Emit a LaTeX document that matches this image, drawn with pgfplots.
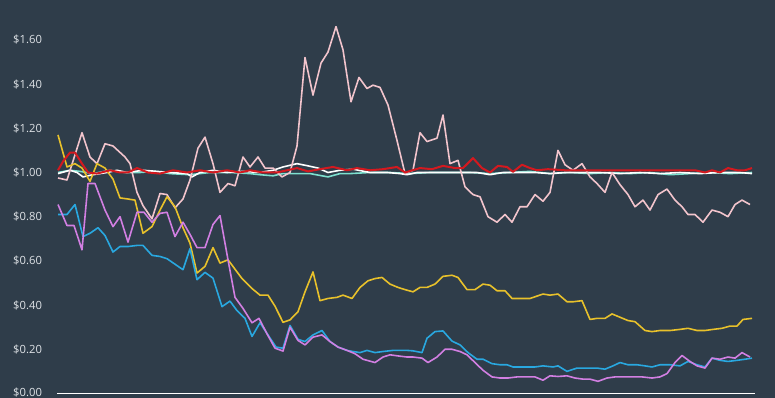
\documentclass[border=0pt]{standalone}
\usepackage{pgfplots}
\pgfplotsset{compat=1.18}
\usepackage{fontspec}
\setmainfont{Open Sans}
\definecolor{bg}{HTML}{2F3D4A}
\definecolor{labelc}{HTML}{DDE1E5}
\definecolor{cpink}{HTML}{F2C4CC}
\definecolor{cyellow}{HTML}{E8C12B}
\definecolor{cviolet}{HTML}{D27FE2}
\definecolor{cblue}{HTML}{29A8E0}
\definecolor{cred}{HTML}{D4191F}
\definecolor{cteal}{HTML}{7EE0CF}
\begin{document}
\begin{tikzpicture}
\begin{axis}[
  at={(0,0)}, anchor=south west,
  width=775bp, height=398bp, scale only axis,
  xmin=0, xmax=775, ymin=-0.0204, ymax=1.7805,
  axis line style={draw=none},
  axis background/.style={fill=bg},
  xtick=\empty,
  ytick={0,0.2,0.4,0.6,0.8,1.0,1.2,1.4,1.6},
  yticklabels={\raisebox{2.5bp}{\$0.00},\$0.20,\$0.40,\$0.60,\$0.80,\$1.00,\$1.20,\$1.40,\$1.60},
  yticklabel style={anchor=west, inner sep=0pt, xshift=13bp, font=\fontsize{11.3}{13}\selectfont, text=labelc},
  major tick length=0pt, tick style={draw=none},
  every axis plot/.append style={line width=1.6bp, line join=round},
]
\addplot[white, line width=1.8bp] coordinates {(57,0) (755,0)};
\addplot[cteal] coordinates {(58,1.0) (70,1.01) (80,1.005) (93,0.995) (110,1.01) (125,1.0) (140,1.0) (155,1.005) (170,0.995) (190,0.99) (210,1.0) (230,1.0) (250,0.995) (260,0.99) (273,0.985) (283,0.995) (297,0.995) (310,0.995) (328,0.98) (340,0.995) (350,0.995) (370,1.0) (390,1.0) (410,0.995) (430,1.0) (450,1.0) (470,1.0) (490,0.995) (510,1.0) (530,1.005) (550,0.995) (570,1.0) (590,0.995) (610,1.0) (630,0.995) (650,1.0) (670,0.99) (690,0.995) (710,1.0) (730,0.995) (752,1.0)};
\addplot[white] coordinates {(58,0.995) (70,1.01) (77,1.0) (83,0.98) (93,0.99) (107,1.0) (117,1.01) (127,1.0) (143,1.01) (157,1.005) (170,1.0) (187,0.995) (192,0.98) (200,1.0) (213,1.01) (227,1.0) (243,1.005) (260,1.0) (273,1.01) (283,1.025) (297,1.04) (308,1.03) (318,1.02) (328,1.0) (340,1.01) (353,1.015) (370,1.0) (387,1.0) (400,0.995) (407,0.99) (417,1.0) (437,1.0) (457,1.0) (477,1.0) (490,0.99) (503,1.0) (517,1.0) (535,1.0) (550,0.995) (565,1.0) (580,1.0) (600,1.0) (620,0.995) (640,1.0) (660,0.995) (680,1.0) (700,0.995) (720,1.0) (740,1.0) (752,0.995)};
\addplot[cpink] coordinates {(58,0.975) (67,0.966) (82,1.18) (90,1.07) (97,1.04) (105,1.13) (113,1.12) (125,1.07) (130,1.04) (137,0.91) (143,0.85) (152,0.79) (160,0.905) (167,0.90) (175,0.84) (183,0.88) (190,0.966) (198,1.11) (205,1.16) (213,1.04) (220,0.91) (228,0.95) (235,0.94) (243,1.07) (250,1.025) (258,1.07) (265,1.02) (273,1.02) (282,0.98) (290,1.0) (297,1.12) (305,1.52) (313,1.35) (321,1.495) (328,1.545) (336,1.66) (343,1.555) (351,1.32) (359,1.43) (367,1.38) (373,1.395) (380,1.385) (388,1.305) (397,1.145) (405,0.995) (413,1.01) (420,1.18) (427,1.14) (437,1.155) (443,1.26) (450,1.04) (458,1.055) (465,0.935) (473,0.90) (480,0.89) (488,0.80) (497,0.775) (505,0.81) (512,0.775) (520,0.845) (527,0.845) (535,0.90) (543,0.87) (550,0.91) (558,1.10) (565,1.035) (573,1.01) (582,1.04) (590,0.98) (597,0.95) (605,0.91) (612,1.0) (620,0.945) (628,0.90) (635,0.845) (643,0.875) (650,0.83) (658,0.90) (667,0.925) (675,0.875) (682,0.845) (688,0.81) (695,0.81) (703,0.775) (712,0.83) (720,0.82) (728,0.80) (735,0.855) (742,0.875) (750,0.855)};
\addplot[cyellow] coordinates {(58,1.17) (67,1.025) (75,1.04) (82,1.02) (90,0.96) (97,1.04) (105,1.02) (113,0.97) (120,0.885) (128,0.88) (135,0.875) (143,0.725) (152,0.755) (160,0.83) (167,0.89) (175,0.845) (183,0.75) (190,0.68) (197,0.545) (205,0.575) (213,0.66) (220,0.59) (228,0.605) (242,0.52) (252,0.475) (260,0.445) (268,0.445) (275,0.395) (283,0.322) (290,0.333) (298,0.37) (305,0.46) (313,0.55) (320,0.42) (328,0.43) (337,0.435) (343,0.445) (352,0.43) (360,0.48) (368,0.51) (375,0.52) (382,0.525) (390,0.495) (398,0.48) (405,0.47) (413,0.46) (420,0.48) (427,0.48) (435,0.495) (443,0.53) (452,0.535) (458,0.525) (467,0.47) (475,0.47) (483,0.495) (490,0.49) (497,0.465) (505,0.465) (512,0.43) (522,0.43) (530,0.43) (543,0.45) (550,0.445) (558,0.45) (567,0.415) (573,0.415) (582,0.42) (590,0.335) (597,0.34) (605,0.34) (612,0.36) (620,0.345) (628,0.33) (635,0.325) (645,0.285) (652,0.28) (660,0.285) (670,0.285) (680,0.29) (688,0.295) (697,0.285) (705,0.285) (713,0.29) (722,0.295) (730,0.305) (737,0.305) (743,0.335) (752,0.34)};
\addplot[cblue] coordinates {(58,0.81) (67,0.81) (75,0.855) (83,0.71) (90,0.725) (98,0.75) (105,0.715) (113,0.64) (120,0.665) (128,0.665) (137,0.67) (143,0.67) (152,0.625) (160,0.62) (167,0.61) (175,0.585) (183,0.56) (190,0.655) (197,0.515) (205,0.548) (213,0.522) (222,0.393) (230,0.418) (237,0.375) (245,0.34) (252,0.258) (260,0.32) (268,0.265) (276,0.21) (283,0.205) (290,0.308) (298,0.245) (305,0.235) (313,0.265) (322,0.285) (330,0.235) (338,0.21) (347,0.195) (353,0.19) (360,0.185) (367,0.195) (375,0.185) (383,0.19) (393,0.195) (407,0.195) (413,0.193) (422,0.185) (427,0.25) (435,0.28) (443,0.283) (452,0.237) (460,0.22) (468,0.185) (477,0.155) (483,0.155) (492,0.135) (500,0.13) (507,0.13) (513,0.12) (525,0.12) (535,0.12) (543,0.125) (553,0.12) (558,0.125) (567,0.10) (577,0.115) (587,0.115) (597,0.115) (605,0.11) (613,0.125) (620,0.14) (628,0.13) (637,0.13) (645,0.125) (652,0.12) (660,0.13) (670,0.13) (680,0.125) (688,0.145) (697,0.13) (705,0.12) (712,0.16) (720,0.15) (728,0.145) (737,0.15) (745,0.155) (752,0.16)};
\addplot[cviolet] coordinates {(58,0.855) (67,0.76) (74,0.76) (82,0.65) (88,0.95) (95,0.95) (105,0.83) (113,0.755) (120,0.80) (128,0.685) (137,0.82) (144,0.82) (152,0.775) (160,0.815) (167,0.82) (175,0.71) (183,0.775) (190,0.72) (197,0.66) (205,0.66) (213,0.765) (220,0.805) (228,0.605) (235,0.435) (243,0.385) (252,0.32) (259,0.34) (267,0.27) (275,0.205) (283,0.192) (290,0.30) (298,0.24) (305,0.22) (313,0.255) (322,0.265) (330,0.235) (338,0.21) (347,0.195) (355,0.18) (363,0.155) (375,0.14) (383,0.165) (390,0.175) (398,0.17) (407,0.165) (413,0.165) (422,0.16) (428,0.14) (437,0.165) (445,0.20) (452,0.20) (460,0.19) (467,0.175) (475,0.14) (483,0.105) (492,0.075) (500,0.07) (508,0.07) (517,0.075) (525,0.075) (535,0.075) (543,0.06) (550,0.08) (558,0.077) (567,0.08) (575,0.07) (583,0.065) (590,0.065) (598,0.055) (607,0.07) (615,0.075) (625,0.075) (633,0.075) (642,0.075) (652,0.07) (660,0.075) (667,0.09) (675,0.14) (682,0.172) (690,0.145) (697,0.125) (705,0.115) (712,0.16) (720,0.155) (728,0.165) (735,0.16) (742,0.185) (750,0.165)};
\addplot[cred, line width=2bp] coordinates {(58,1.01) (63,1.05) (70,1.09) (75,1.09) (82,1.04) (88,1.0) (97,0.995) (110,1.01) (120,1.0) (128,1.0) (137,1.02) (148,1.0) (160,0.995) (173,1.01) (187,1.0) (200,1.01) (213,1.0) (227,1.01) (240,1.0) (250,1.01) (263,1.0) (277,1.0) (287,1.01) (297,1.02) (308,1.005) (320,1.015) (333,1.025) (347,1.01) (357,1.02) (370,1.01) (383,1.015) (397,1.025) (405,1.0) (420,1.02) (432,1.015) (443,1.03) (455,1.02) (463,1.02) (473,1.065) (482,1.02) (490,1.0) (498,1.03) (507,1.025) (513,1.003) (522,1.035) (530,1.02) (537,1.01) (548,1.015) (565,1.01) (582,1.01) (598,1.01) (615,1.01) (632,1.01) (648,1.01) (665,1.01) (682,1.01) (695,1.01) (705,1.0) (712,1.01) (720,1.0) (728,1.02) (737,1.01) (745,1.01) (752,1.02)};
\end{axis}
\pgfresetboundingbox
\path (0,0) rectangle (775bp,398bp);
\end{tikzpicture}
\end{document}
